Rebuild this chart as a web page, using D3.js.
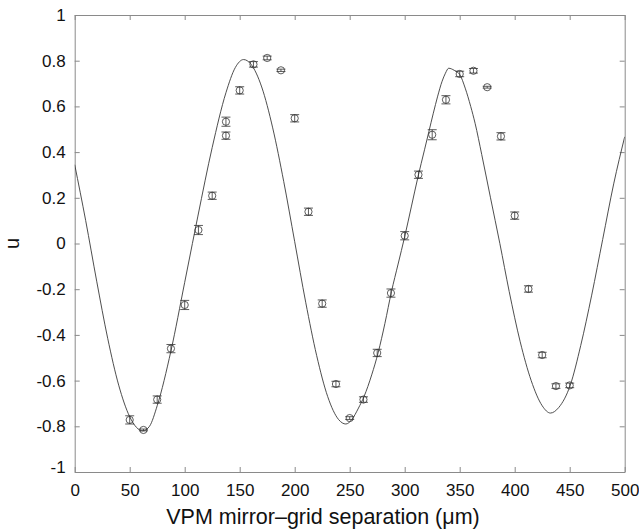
<!DOCTYPE html>
<html>
<head>
<meta charset="utf-8">
<script src="https://cdn.jsdelivr.net/npm/d3@7/dist/d3.min.js"></script>
<style>
  body { margin: 0; background: #fff; }
  svg { display: block; font-family: "Liberation Sans", Arial, Helvetica, sans-serif; }
  .axis path, .axis line { stroke: #8a8a8a; stroke-width: 1; }
  .axis text { fill: #111; font-size: 17px; }
</style>
</head>
<body>
<div id="chart"></div>
<script>
// measured points (separation in um, u) with error bars
var sepData = [50, 62.5, 75, 87.5, 100, 112.5, 125, 137.5, 137.5, 150, 162.5, 175, 187.5, 200,
               212.5, 225, 237.5, 250, 262.5, 275, 287.5, 300, 312.5, 325, 337.5, 350, 362.5,
               375, 387.5, 400, 412.5, 425, 437.5, 450];
var uData = [-0.772, -0.816, -0.683, -0.460, -0.269, 0.059, 0.209, 0.533, 0.472, 0.670, 0.784,
             0.812, 0.758, 0.548, 0.139, -0.263, -0.615, -0.764, -0.683, -0.479, -0.217, 0.034,
             0.301, 0.476, 0.629, 0.742, 0.756, 0.684, 0.469, 0.122, -0.199, -0.488, -0.624, -0.621];
var uErr = [0.018, 0.004, 0.016, 0.018, 0.020, 0.020, 0.016, 0.020, 0.016, 0.016, 0.012,
            0.008, 0.005, 0.016, 0.016, 0.016, 0.012, 0.006, 0.012, 0.016, 0.018, 0.018,
            0.016, 0.022, 0.018, 0.012, 0.010, 0.004, 0.016, 0.016, 0.014, 0.012, 0.010, 0.010];

// model curve
var fitSep = [0, 10, 20, 30, 40, 50, 56, 62, 68, 75, 87.5, 100, 107, 112, 125, 137.5, 146, 153.5,
              160, 170, 180, 190, 200, 210, 220, 230, 240, 246.5,
              252, 258, 263, 270, 276, 282, 288, 294, 300, 306, 312, 318, 322, 326, 330, 334, 337, 340,
              345, 350, 355, 360, 364, 370, 378, 386.5, 395, 405, 415, 425, 432.5,
              440, 450.5, 460, 470, 480, 490, 500];
var fitU = [0.345, 0.10, -0.165, -0.415, -0.62, -0.758, -0.804, -0.82, -0.80, -0.71, -0.47, -0.17, 0.0, 0.12, 0.42, 0.66, 0.77, 0.805,
            0.786, 0.685, 0.506, 0.272, 0.008, -0.257, -0.491, -0.67, -0.771, -0.79,
            -0.77, -0.72, -0.67, -0.575, -0.475, -0.35, -0.21, -0.09, 0.03, 0.16, 0.29, 0.41, 0.49, 0.57, 0.645, 0.71, 0.745, 0.767,
            0.758, 0.74, 0.68, 0.60, 0.526, 0.39, 0.20, 0.0, -0.21, -0.43, -0.60, -0.71, -0.742,
            -0.718, -0.62, -0.447, -0.226, 0.018, 0.261, 0.467];

var xTicks = [0, 50, 100, 150, 200, 250, 300, 350, 400, 450, 500];
var yTicks = [-1, -0.8, -0.6, -0.4, -0.2, 0, 0.2, 0.4, 0.6, 0.8, 1];

var W = 639, H = 529;
var MARGIN = {top: 15, right: 14.3, bottom: 57, left: 74.7};

var svg = d3.select("#chart").append("svg").attr("width", W).attr("height", H);

var x = d3.scaleLinear().domain([0, 500]).range([MARGIN.left, W - MARGIN.right]);
var y = d3.scaleLinear().domain([-1, 1]).range([H - MARGIN.bottom, MARGIN.top]);

// axes, ticks inside on all four sides
svg.append("g").attr("class", "x axis")
  .attr("transform", "translate(0," + y(-1) + ")")
  .call(d3.axisBottom(x).tickValues(xTicks).tickSizeInner(-5).tickSizeOuter(0).tickPadding(12)
    .tickFormat(d3.format("d")));

svg.append("g").attr("class", "x axis top")
  .attr("transform", "translate(0," + y(1) + ")")
  .call(d3.axisTop(x).tickValues(xTicks).tickSizeInner(-5).tickSizeOuter(0).tickFormat(""));

var yAxisG = svg.append("g").attr("class", "y axis")
  .attr("transform", "translate(" + x(0) + ",0)")
  .call(d3.axisLeft(y).tickValues(yTicks).tickSizeInner(-5).tickSizeOuter(0).tickPadding(9)
    .tickFormat(function(d) { return d === 0 ? "0" : d3.format("")(d).replace("\u2212", "-"); }));

svg.append("g").attr("class", "y axis right")
  .attr("transform", "translate(" + x(500) + ",0)")
  .call(d3.axisRight(y).tickValues(yTicks).tickSizeInner(-5).tickSizeOuter(0).tickFormat(""));

// lowest label sits a little above its tick
yAxisG.selectAll(".tick text").filter(function(d) { return d === -1; }).attr("dy", "0.0em");

// curve
svg.append("clipPath").attr("id", "plotClip").append("rect")
  .attr("x", x(0)).attr("y", y(1)).attr("width", x(500) - x(0)).attr("height", y(-1) - y(1));

var fitLine = d3.line()
  .x(function(d, i) { return x(fitSep[i]); })
  .y(function(d) { return y(d); })
  .curve(d3.curveMonotoneX);

svg.append("path")
  .attr("clip-path", "url(#plotClip)")
  .attr("d", fitLine(fitU))
  .attr("fill", "none")
  .attr("stroke", "#3a3a3a")
  .attr("stroke-width", 0.9);

// data points with error bars
var pts = svg.append("g").selectAll("g.pt")
  .data(uData.map(function(u, i) { return {s: sepData[i], u: u, e: uErr[i]}; }))
  .enter().append("g").attr("class", "pt")
  .attr("stroke", "#333").attr("stroke-width", 0.8).attr("fill", "none");

pts.append("line")
  .attr("x1", function(d) { return x(d.s); }).attr("x2", function(d) { return x(d.s); })
  .attr("y1", function(d) { return y(d.u + d.e); }).attr("y2", function(d) { return y(d.u - d.e); });
pts.append("line")
  .attr("x1", function(d) { return x(d.s) - 4.5; }).attr("x2", function(d) { return x(d.s) + 4.5; })
  .attr("y1", function(d) { return y(d.u + d.e); }).attr("y2", function(d) { return y(d.u + d.e); });
pts.append("line")
  .attr("x1", function(d) { return x(d.s) - 4.5; }).attr("x2", function(d) { return x(d.s) + 4.5; })
  .attr("y1", function(d) { return y(d.u - d.e); }).attr("y2", function(d) { return y(d.u - d.e); });
pts.append("circle")
  .attr("cx", function(d) { return x(d.s); })
  .attr("cy", function(d) { return y(d.u); })
  .attr("r", 3.6);

// axis titles
svg.append("text")
  .attr("x", 323).attr("y", 524)
  .attr("text-anchor", "middle")
  .attr("font-size", 21.5).attr("fill", "#111")
  .text("VPM mirror\u2013grid separation (\u03bcm)");

svg.append("text")
  .attr("transform", "translate(19," + y(0) + ") rotate(-90)")
  .attr("text-anchor", "middle")
  .attr("font-size", 20).attr("fill", "#111")
  .text("u");
</script>
</body>
</html>
